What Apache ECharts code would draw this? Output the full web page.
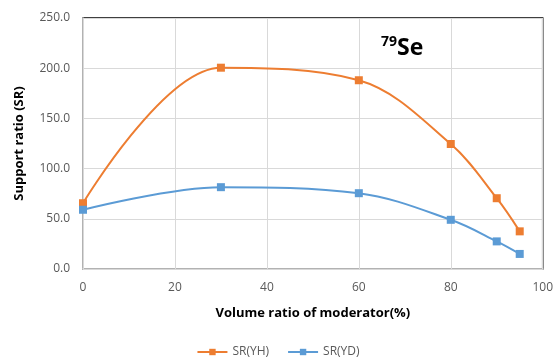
<!DOCTYPE html>
<html lang="en">
<head>
    <meta charset="UTF-8">
    <style>
    html,
    body {
        height: 100%;
        margin: 0;
    }
  </style>
</head>
<body>
<div id="chart" style="width:556px;height:364px;"></div>
<script src="https://cdn.jsdelivr.net/npm/echarts@6/dist/echarts.min.js"></script>
<script>
    var ratios = [0, 30, 60, 80, 90, 95];
    var srYH = [65.5, 200.5, 188, 124.5, 70.5, 37.5];
    var srYD = [59, 81.5, 75.5, 49, 27.5, 15];
    var seriesNames = ['SR(YH)', 'SR(YD)'];

    var font = 'Open Sans';
    var myChart = echarts.init(document.getElementById('chart'));
    myChart.setOption({
        animation: false,
        color: ['#ED7D31', '#5B9BD5'],
        textStyle: { fontFamily: font },
        grid: {
            left: 83,
            right: 11,
            top: 18,
            bottom: 95,
            show: true,
            borderColor: '#000',
            borderWidth: 1.5
        },
        title: {
            text: '{sup|79}{b|Se}',
            left: 376,
            top: 30,
            textStyle: {
                rich: {
                    sup: { fontSize: 14, fontWeight: 'bold', fontFamily: font, color: '#000', verticalAlign: 'top', padding: [0, 0, 12, 0] },
                    b: { fontSize: 23, fontWeight: 'bold', fontFamily: font, color: '#000' }
                }
            }
        },
        legend: {
            bottom: 1,
            left: 'center',
            itemGap: 18,
            itemWidth: 30,
            itemHeight: 8,
            textStyle: { color: '#595959', fontSize: 12, fontFamily: font },
            data: seriesNames
        },
        xAxis: {
            type: 'value',
            min: 0,
            max: 100,
            interval: 20,
            name: 'Volume ratio of moderator(%)',
            nameLocation: 'middle',
            nameGap: 38,
            nameTextStyle: { color: '#000', fontWeight: 'bold', fontSize: 13, fontFamily: font },
            axisLine: { show: true, lineStyle: { color: '#D9D9D9', width: 1.5 } },
            axisTick: { show: false },
            axisLabel: { color: '#595959', fontSize: 12, margin: 13 },
            splitLine: { lineStyle: { color: '#D9D9D9', width: 1 } }
        },
        yAxis: {
            type: 'value',
            min: 0,
            max: 250,
            interval: 50,
            name: 'Support ratio (SR)',
            nameLocation: 'middle',
            nameGap: 57,
            nameTextStyle: { color: '#000', fontWeight: 'bold', fontSize: 13, fontFamily: font },
            axisLine: { show: true, lineStyle: { color: '#D9D9D9', width: 1.5 } },
            axisTick: { show: false },
            axisLabel: {
                color: '#595959',
                fontSize: 12,
                margin: 13,
                formatter: function (v) { return v.toFixed(1); }
            },
            splitLine: { lineStyle: { color: '#D9D9D9', width: 1 } }
        },
        series: [
            {
                name: seriesNames[0],
                type: 'line',
                smooth: 0.35,
                symbol: 'rect',
                symbolSize: 8,
                lineStyle: { width: 2 },
                data: ratios.map(function (x, i) { return [x, srYH[i]]; })
            },
            {
                name: seriesNames[1],
                type: 'line',
                smooth: 0.35,
                symbol: 'rect',
                symbolSize: 8,
                lineStyle: { width: 2 },
                data: ratios.map(function (x, i) { return [x, srYD[i]]; })
            }
        ]
    });
</script>
</body>
</html>
